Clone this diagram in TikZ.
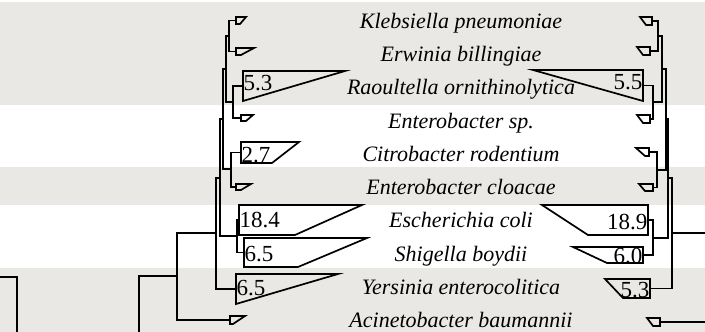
\documentclass[tikz,border=0pt]{standalone}
\usepackage{fontspec}
\setmainfont{Liberation Serif}
\definecolor{rowgray}{RGB}{234,232,228}
% collapsed clade: name, base x, top y, bottom y, top tip x, bottom tip x
\def\clade#1#2#3#4#5#6{
\draw[branch] (#2,#3) -- (#5,#3) -- (#6,#4) -- (#2,#4) -- cycle;
\coordinate (#1) at (#2,{(#3+#4)/2});
}
\begin{document}
\begin{tikzpicture}[x=1pt,y=-1pt,
  branch/.style={line width=1.7pt},
  taxon/.style={anchor=base,inner sep=0pt,font=\fontsize{22}{22}\selectfont\itshape},
  num/.style={inner sep=0.5pt,font=\fontsize{23}{23}\selectfont}]
\useasboundingbox (0,0) rectangle (705,332);
\fill[rowgray] (0,2) rectangle (705,105);
\fill[rowgray] (0,167) rectangle (705,205);
\fill[rowgray] (0,268) rectangle (705,332);
% taxa
\node[taxon] (kpn) at (461,28) {Klebsiella pneumoniae};
\node[taxon] (ebi) at (461,61) {Erwinia billingiae};
\node[taxon] (rao) at (461,94.5) {Raoultella ornithinolytica};
\node[taxon] (ent) at (461,128) {Enterobacter sp.};
\node[taxon] (cit) at (461,161) {Citrobacter rodentium};
\node[taxon] (clo) at (461,194.5) {Enterobacter cloacae};
\node[taxon] (col) at (461,227.5) {Escherichia coli};
\node[taxon] (shi) at (461,261) {Shigella boydii};
\node[taxon] (yer) at (461,294) {Yersinia enterocolitica};
\node[taxon] (aci) at (461,327) {Acinetobacter baumannii};
% left tree
\clade{lkpn}{236}{17}{24}{246}{240}
\clade{lebi}{236}{48}{55}{254}{241}
\clade{lrao}{243}{71}{101}{345}{243}
\clade{lent}{241}{115}{121}{253}{246}
\clade{lcit}{241}{142}{163}{299}{272}
\clade{lclo}{236}{184}{190}{251}{241}
\clade{lcol}{239}{205}{235}{362}{295}
\clade{lshi}{244}{238}{267}{367}{298}
\clade{lyer}{236}{274}{304}{338}{236}
\clade{laci}{230}{316}{324}{245}{233}
\coordinate (lA) at (229,36);
\coordinate (lB) at (233,102);
\coordinate (lC) at (226,69);
\coordinate (lD) at (231,169);
\coordinate (lE) at (223,119);
\coordinate (lF) at (237,236);
\coordinate (lG) at (220,178);
\coordinate (lH) at (216,233);
\coordinate (lI) at (177,276);
\coordinate (lJ) at (139,332);
\coordinate (lK) at (0,277);
\coordinate (lL) at (17,332);
\draw[branch] (lkpn) -| (lA) |- (lebi);
\draw[branch] (lrao) -| (lB) |- (lent);
\draw[branch] (lA) -| (lC) |- (lB);
\draw[branch] (lcit) -| (lD) |- (lclo);
\draw[branch] (lC) -| (lE) |- (lD);
\draw[branch] (lcol) -| (lF) |- (lshi);
\draw[branch] (lE) -| (lG) |- (lF);
\draw[branch] (lG) -| (lH) |- (lyer);
\draw[branch] (lH) -| (lI) |- (laci);
\draw[branch] (lI) -| (lJ);
\draw[branch] (lK) -| (lL);
% right tree
\clade{rkpn}{652}{17}{25}{640}{646}
\clade{rebi}{650}{47}{55}{637}{643}
\clade{rrao}{643}{70}{101}{533}{643}
\clade{rent}{650}{115}{123}{637}{643}
\clade{rcit}{649}{148}{156}{636}{645}
\clade{rclo}{653}{184}{191}{639}{645}
\clade{rcol}{648}{205}{235}{542}{588}
\clade{rshi}{643}{247}{263}{573}{607}
\clade{ryer}{650}{279}{298}{605}{623}
\clade{raci}{660}{318}{326}{647}{653}
\coordinate (rA) at (658,36);
\coordinate (rB) at (653,102);
\coordinate (rC) at (662,69);
\coordinate (rD) at (657,170);
\coordinate (rE) at (666,119);
\coordinate (rF) at (653,238);
\coordinate (rG) at (668,178);
\coordinate (rH) at (672,233);
\coordinate (rR) at (705,233);
\coordinate (rS) at (705,322);
\draw[branch] (rkpn) -| (rA) |- (rebi);
\draw[branch] (rrao) -| (rB) |- (rent);
\draw[branch] (rA) -| (rC) |- (rB);
\draw[branch] (rcit) -| (rD) |- (rclo);
\draw[branch] (rC) -| (rE) |- (rD);
\draw[branch] (rcol) -| (rF) |- (rshi);
\draw[branch] (rE) -| (rG) |- (rF);
\draw[branch] (rG) -| (rH) |- (ryer);
\draw[branch] (rH) -- (rR);
\draw[branch] (raci) -- (rS);
% clade sizes
\node[num,anchor=west] (v53l) at (243,83) {5.3};
\node[num,anchor=west] (v27) at (241,155) {2.7};
\node[num,anchor=west] (v184) at (239,220) {18.4};
\node[num,anchor=west] (v65s) at (244,254) {6.5};
\node[num,anchor=west] (v65y) at (236,288) {6.5};
\node[num,anchor=east] (v55) at (643,82) {5.5};
\node[num,anchor=east] (v189) at (648,222) {18.9};
\node[num,anchor=east] (v60) at (643,256) {6.0};
\node[num,anchor=east] (v53r) at (650,290) {5.3};
\end{tikzpicture}
\end{document}
